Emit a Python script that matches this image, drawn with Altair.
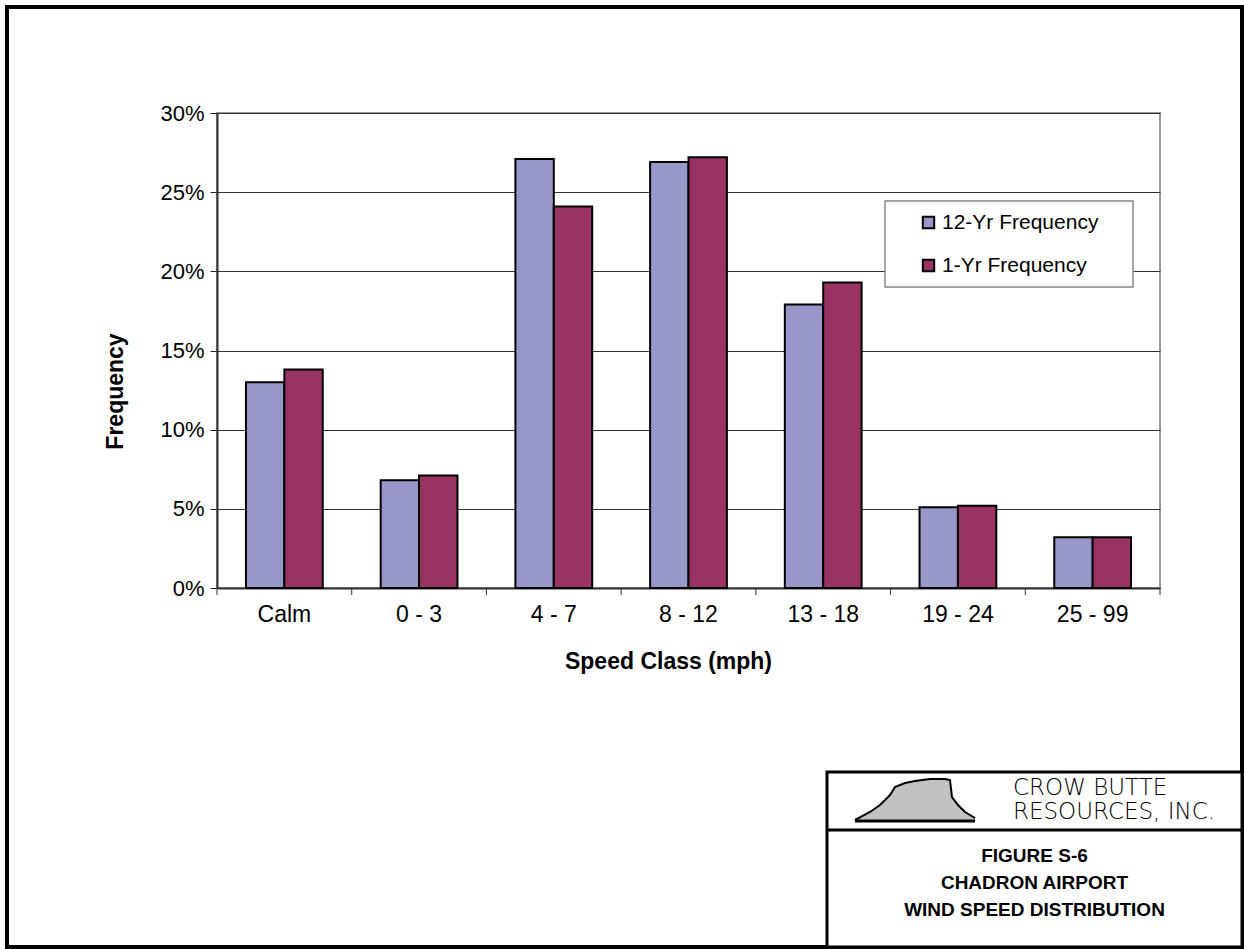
import altair as alt
import pandas as pd

# ---- data ----
categories = ["Calm", "0 - 3", "4 - 7", "8 - 12", "13 - 18", "19 - 24", "25 - 99"]
series_names = ["12-Yr Frequency", "1-Yr Frequency"]
freq_12yr = [13.0, 6.8, 27.1, 26.9, 17.9, 5.1, 3.2]
freq_1yr = [13.8, 7.1, 24.1, 27.2, 19.3, 5.2, 3.2]
colors = ["#9797C9", "#993363"]
y_ticks = [0, 5, 10, 15, 20, 25, 30]
boundaries = [0, 1, 2, 3, 4, 5, 6, 7]

# rough logo outline (butte silhouette), pixel offsets in the plot frame
logo_x = [638, 653, 663, 673, 678, 688, 698, 713, 728, 733, 735, 741, 748, 758]
logo_top = [707, 699, 692, 682, 674, 670, 668, 666, 666, 667, 684, 692, 699, 705]
logo_base = [708, 708, 708, 708, 708, 708, 708, 708, 708, 708, 708, 708, 708, 708]

rows = []
for c, a, b in zip(categories, freq_12yr, freq_1yr):
    rows.append({"cls": c, "series": series_names[0], "value": a})
    rows.append({"cls": c, "series": series_names[1], "value": b})
df = pd.DataFrame(rows)

FONT = "Liberation Sans"
W, H = 943, 475  # plot area

bars = alt.Chart(df).mark_bar(stroke="black", strokeWidth=2).encode(
    x=alt.X(
        "cls:N",
        sort=categories,
        scale=alt.Scale(paddingInner=0.43, paddingOuter=0.215),
        axis=alt.Axis(
            title="Speed Class (mph)",
            titleFont=FONT, titleFontSize=23, titleFontWeight="bold", titleColor="black",
            titleX=451, titleY=73, titleBaseline="middle", titleAlign="center",
            labelFont=FONT, labelFontSize=23, labelColor="black", labelAngle=0,
            labelPadding=15, ticks=False, tickSize=0,
            domainColor="#333333", domainWidth=2, grid=False,
        ),
    ),
    xOffset=alt.XOffset("series:N", sort=series_names,
                        scale=alt.Scale(paddingInner=0, paddingOuter=0)),
    y=alt.Y(
        "value:Q",
        scale=alt.Scale(domain=[0, 30], nice=False),
        axis=alt.Axis(
            title="Frequency", values=y_ticks,
            labelExpr="datum.value + '%'",
            titleFont=FONT, titleFontSize=23, titleFontWeight="bold", titleColor="black",
            titleX=-102, titleY=278, titleAngle=270, titleBaseline="middle", titleAlign="center",
            labelFont=FONT, labelFontSize=22, labelColor="black", labelPadding=6,
            tickColor="#222222", tickSize=7, tickWidth=1,
            domainColor="#333333", domainWidth=2,
            grid=True, gridColor="#333333", gridWidth=1,
        ),
    ),
    color=alt.Color(
        "series:N", sort=series_names,
        scale=alt.Scale(domain=series_names, range=colors),
        legend=alt.Legend(
            title=None, orient="none", legendX=701, legendY=99,
            symbolType="square", symbolSize=130, symbolStrokeColor="black",
            symbolStrokeWidth=2, symbolOpacity=1,
            labelFont=FONT, labelFontSize=21, labelColor="black", labelOffset=3,
            rowPadding=21, padding=0,
        ),
    ),
)

# tick marks on the category boundaries of the x axis
bnd = pd.DataFrame({"b": boundaries})
xticks = alt.Chart(bnd).mark_rule(color="#333333", strokeWidth=1).encode(
    x=alt.X("b:Q", scale=alt.Scale(domain=[0, len(categories)], nice=False), axis=None),
    y=alt.value(H),
    y2=alt.value(H + 7),
)

one = pd.DataFrame({"k": [0]})

# legend box (covers grid lines behind the legend)
legend_box = alt.Chart(one).mark_rect(fill="white", stroke="#888888", strokeWidth=1.5).encode(
    x=alt.value(668), x2=alt.value(916), y=alt.value(88), y2=alt.value(174)
)

# outer frame
frame = alt.Chart(one).mark_rect(fill=None, stroke="black", strokeWidth=4).encode(
    x=alt.value(-210), x2=alt.value(1025), y=alt.value(-106), y2=alt.value(834)
)
# title block
tblock = alt.Chart(one).mark_rect(fill="white", stroke="black", strokeWidth=3).encode(
    x=alt.value(610), x2=alt.value(1025), y=alt.value(659), y2=alt.value(834)
)
tdivider = alt.Chart(one).mark_rule(color="black", strokeWidth=3).encode(
    x=alt.value(610), x2=alt.value(1025), y=alt.value(717)
)

# logo (rough butte sketch)
logo_df = pd.DataFrame({"lx": logo_x, "ly": logo_top, "lb": logo_base})
logo_fill = alt.Chart(logo_df).mark_area(color="#777777", opacity=0.45, interpolate="linear").encode(
    x=alt.X("lx:Q", scale=None), y=alt.Y("ly:Q", scale=None), y2="lb:Q"
)
logo_line = alt.Chart(logo_df).mark_line(color="black", strokeWidth=2).encode(
    x=alt.X("lx:Q", scale=None), y=alt.Y("ly:Q", scale=None)
)
logo_base_line = alt.Chart(logo_df).mark_line(color="black", strokeWidth=3).encode(
    x=alt.X("lx:Q", scale=None), y=alt.Y("lb:Q", scale=None)
)

company = pd.DataFrame({
    "t": ["CROW  BUTTE", "RESOURCES,  INC."],
    "yy": [675, 699],
})
company_txt = alt.Chart(company).mark_text(
    font="DejaVu Sans", fontSize=23, fontWeight=200, align="left", baseline="middle", color="black"
).encode(text="t:N", x=alt.value(796), y=alt.Y("yy:Q", scale=None))

fig_lines = pd.DataFrame({
    "t": ["FIGURE  S-6", "CHADRON AIRPORT", "WIND SPEED DISTRIBUTION"],
    "yy": [743, 770, 797],
})
fig_txt = alt.Chart(fig_lines).mark_text(
    font=FONT, fontSize=19, fontWeight="bold", align="center", baseline="middle", color="black"
).encode(text="t:N", x=alt.value(817.5), y=alt.Y("yy:Q", scale=None))

chart = alt.layer(
    bars, xticks, legend_box, frame, tblock, tdivider,
    logo_fill, logo_line, logo_base_line, company_txt, fig_txt
).resolve_scale(x="independent").properties(
    width=W, height=H,
    autosize=alt.AutoSizeParams(type="none"),
    padding={"left": 217, "top": 113, "right": 84, "bottom": 361},
    background="white",
).configure_view(stroke="#999999", strokeWidth=2)

chart.save("out.html", embed_options={"renderer": "svg", "actions": False})
